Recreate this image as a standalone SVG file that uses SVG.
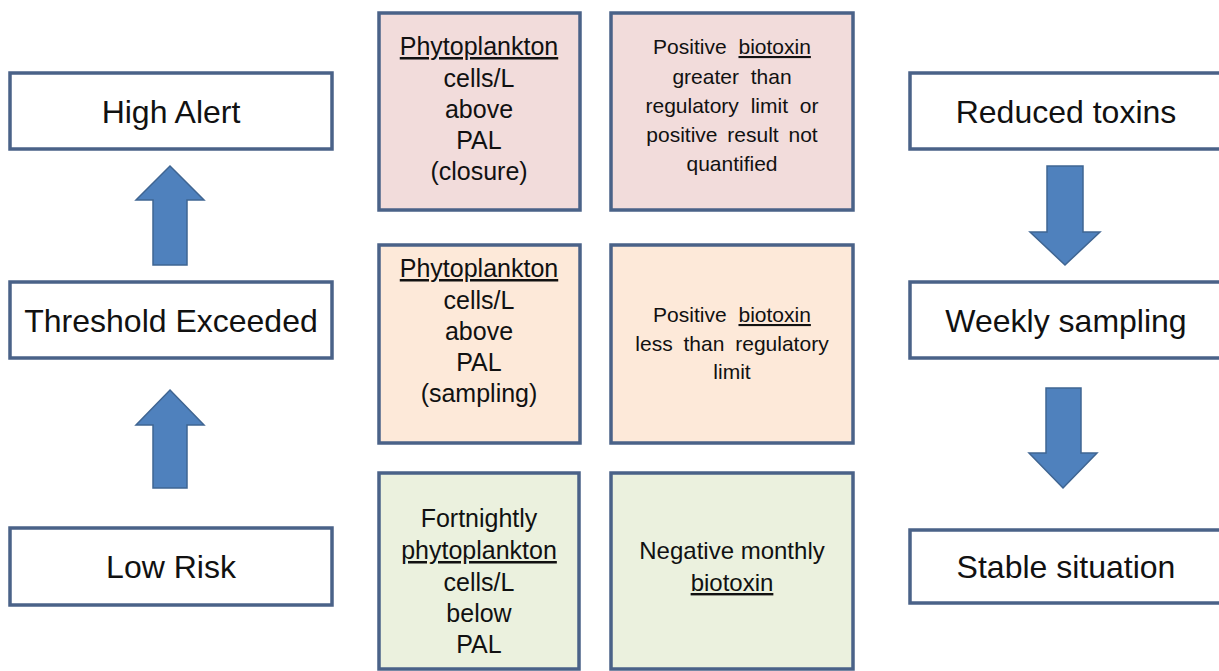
<svg xmlns="http://www.w3.org/2000/svg" width="1219" height="671" viewBox="0 0 1219 671">
<style>
.box{fill:#ffffff;stroke:#4a6288;stroke-width:3.5}
.pink{fill:#f2dcdb;stroke:#4a6288;stroke-width:3.5}
.peach{fill:#fde9d9;stroke:#4a6288;stroke-width:3.5}
.green{fill:#ebf1de;stroke:#4a6288;stroke-width:3.5}
.arrow{fill:#4f81bd;stroke:#3f6592;stroke-width:1.5}
text{font-family:"Liberation Sans",Arial,sans-serif;fill:#111;text-anchor:middle}
.big{font-size:32px}
.mid{font-size:25px}
.sm{font-size:21px}
.u{text-decoration:underline}
</style>
<rect width="1219" height="671" fill="#ffffff"/>
<g id="connectors">
<path class="arrow" d="M170,166 L204,200 L187,200 L187,265 L153,265 L153,200 L136,200 Z"/>
<path class="arrow" d="M170,390 L204,425 L187,425 L187,488 L153,488 L153,425 L136,425 Z"/>
<path class="arrow" d="M1065,265 L1100,232 L1083,232 L1083,166 L1047,166 L1047,232 L1030,232 Z"/>
<path class="arrow" d="M1063,488 L1097,453 L1081,453 L1081,388 L1046,388 L1046,453 L1029,453 Z"/>
</g>
<g id="high-alert"><rect class="box" x="10" y="73" width="322" height="76"/><text class="big" x="171" y="123">High Alert</text></g>
<g id="threshold-exceeded"><rect class="box" x="10" y="282" width="322" height="76"/><text class="big" x="171" y="332">Threshold Exceeded</text></g>
<g id="low-risk"><rect class="box" x="10" y="528" width="322" height="77"/><text class="big" x="171" y="578">Low Risk</text></g>
<g id="reduced-toxins"><rect class="box" x="910" y="73" width="322" height="76"/><text class="big" x="1066" y="123">Reduced toxins</text></g>
<g id="weekly-sampling"><rect class="box" x="910" y="282" width="322" height="76"/><text class="big" x="1066" y="332">Weekly sampling</text></g>
<g id="stable-situation"><rect class="box" x="910" y="530" width="322" height="73"/><text class="big" x="1066" y="578">Stable situation</text></g>
<g id="phyto-closure"><rect class="pink" x="379" y="13" width="201" height="197"/>
<text class="mid"><tspan class="u" x="479" y="55">Phytoplankton</tspan><tspan x="479" y="87">cells/L</tspan><tspan x="479" y="118">above</tspan><tspan x="479" y="149">PAL</tspan><tspan x="479" y="180">(closure)</tspan></text></g>
<g id="biotoxin-above"><rect class="pink" x="611" y="13" width="242" height="197"/>
<text class="sm"><tspan x="732" y="54" word-spacing="6">Positive <tspan class="u">biotoxin</tspan></tspan><tspan x="732" y="84" word-spacing="6">greater than</tspan><tspan x="732" y="113" word-spacing="6">regulatory limit or</tspan><tspan x="732" y="142" word-spacing="4">positive result not</tspan><tspan x="732" y="171">quantified</tspan></text></g>
<g id="phyto-sampling"><rect class="peach" x="379" y="245" width="201" height="198"/>
<text class="mid"><tspan class="u" x="479" y="277">Phytoplankton</tspan><tspan x="479" y="309">cells/L</tspan><tspan x="479" y="340">above</tspan><tspan x="479" y="371">PAL</tspan><tspan x="479" y="402">(sampling)</tspan></text></g>
<g id="biotoxin-below"><rect class="peach" x="611" y="245" width="242" height="198"/>
<text class="sm"><tspan x="732" y="322" word-spacing="6">Positive <tspan class="u">biotoxin</tspan></tspan><tspan x="732" y="351" word-spacing="5">less than regulatory</tspan><tspan x="732" y="379">limit</tspan></text></g>
<g id="phyto-fortnightly"><rect class="green" x="379" y="473" width="200" height="196"/>
<text class="mid"><tspan x="479" y="527">Fortnightly</tspan><tspan class="u" x="479" y="559">phytoplankton</tspan><tspan x="479" y="591">cells/L</tspan><tspan x="479" y="622">below</tspan><tspan x="479" y="653">PAL</tspan></text></g>
<g id="biotoxin-negative"><rect class="green" x="611" y="473" width="242" height="196"/>
<text class="mid" style="font-size:24px"><tspan x="732" y="559">Negative monthly</tspan><tspan class="u" x="732" y="591">biotoxin</tspan></text></g>
</svg>
